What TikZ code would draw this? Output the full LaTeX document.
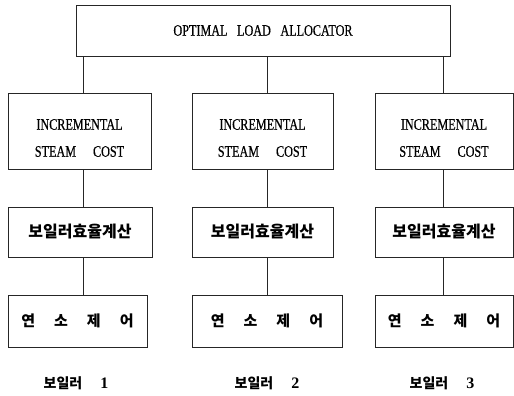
\documentclass[tikz,border=0pt]{standalone}
\usepackage{fontspec}
\setmainfont{Liberation Serif}
\newfontfamily\latfont{Liberation Serif}[FakeStretch=0.76, FakeBold=0.5]
\newfontfamily\digfont{Liberation Serif Bold}
\newfontfamily\kr{Noto Sans CJK KR}
\begin{document}
\begin{tikzpicture}[x=1pt,y=-1pt,
  box/.style={draw=black!85, line width=0.8pt, rectangle, inner sep=0pt},
  conn/.style={draw=black!85, line width=0.8pt},
  lat/.style={font=\latfont\fontsize{16}{27}\selectfont, align=center, inner sep=0pt},
  ktext/.style={font=\kr\bfseries\fontsize{16}{18}\selectfont},
  ftext/.style={font=\kr\bfseries\fontsize{15}{18}\selectfont},
  lab/.style={font=\kr\bfseries\fontsize{14}{16}\selectfont, inner sep=0pt}]
\useasboundingbox (0,0) rectangle (514,396);
% top
\node[box, minimum width=374pt, minimum height=51pt, lat] (top) at (263,30.5)
  {OPTIMAL\hspace{0.6em}LOAD\hspace{0.6em}ALLOCATOR};
% incremental steam cost
\node[box, minimum width=143pt, minimum height=76pt] (inc1) at (79.5,131) {};
\node[box, minimum width=141pt, minimum height=76pt] (inc2) at (262.5,131) {};
\node[box, minimum width=138pt, minimum height=76pt] (inc3) at (444,131) {};
\node[lat] (t1) at ([yshift=-7pt]inc1.center) {INCREMENTAL\\STEAM\hspace{17pt}COST};
\node[lat] (t2) at ([yshift=-7pt]inc2.center) {INCREMENTAL\\STEAM\hspace{17pt}COST};
\node[lat] (t3) at ([yshift=-7pt]inc3.center) {INCREMENTAL\\STEAM\hspace{17pt}COST};
% efficiency
\node[box, minimum width=144pt, minimum height=50pt, ktext] (eff1) at (80,232) {보일러효율계산};
\node[box, minimum width=141pt, minimum height=50pt, ktext] (eff2) at (262.5,232) {보일러효율계산};
\node[box, minimum width=138pt, minimum height=50pt, ktext] (eff3) at (444,232) {보일러효율계산};
% fuel control
\node[box, minimum width=139pt, minimum height=52pt, ftext] (fuel1) at (77.5,321) {연\hspace{19pt}소\hspace{19pt}제\hspace{19pt}어};
\node[box, minimum width=150pt, minimum height=52pt, ftext] (fuel2) at (267,321) {연\hspace{19pt}소\hspace{19pt}제\hspace{19pt}어};
\node[box, minimum width=138pt, minimum height=52pt, ftext] (fuel3) at (444,321) {연\hspace{19pt}소\hspace{19pt}제\hspace{19pt}어};
% labels
\node[lab] (lab1) at (76,383) {보일러\hspace{18pt}{\digfont\fontsize{16}{18}\selectfont 1}};
\node[lab] (lab2) at (267,383) {보일러\hspace{18pt}{\digfont\fontsize{16}{18}\selectfont 2}};
\node[lab] (lab3) at (442,383) {보일러\hspace{18pt}{\digfont\fontsize{16}{18}\selectfont 3}};
% connectors
\coordinate (x1) at (83,0);
\coordinate (x2) at (267,0);
\coordinate (x3) at (443,0);
\foreach \i in {1,2,3}{
  \draw[conn] (top.south -| x\i) -- (inc\i.north -| x\i);
  \draw[conn] (inc\i.south -| x\i) -- (eff\i.north -| x\i);
  \draw[conn] (eff\i.south -| x\i) -- (fuel\i.north -| x\i);
}
\end{tikzpicture}
\end{document}
